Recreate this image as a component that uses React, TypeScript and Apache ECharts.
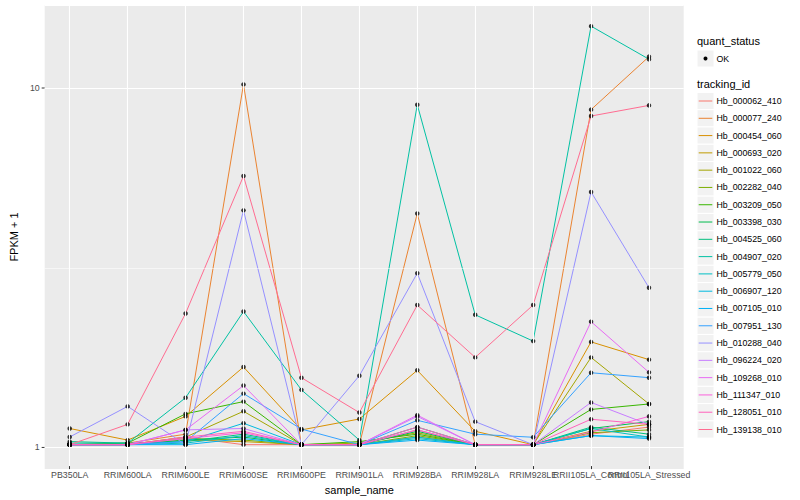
import React, { useEffect, useRef } from "react";
import * as echarts from "echarts";

// ---------- data ----------
const CATEGORIES = [
  "PB350LA",
  "RRIM600LA",
  "RRIM600LE",
  "RRIM600SE",
  "RRIM600PE",
  "RRIM901LA",
  "RRIM928BA",
  "RRIM928LA",
  "RRIM928LE",
  "RRII105LA_Control",
  "RRII105LA_Stressed",
];

const TRACKING_IDS = [
  "Hb_000062_410",
  "Hb_000077_240",
  "Hb_000454_060",
  "Hb_000693_020",
  "Hb_001022_060",
  "Hb_002282_040",
  "Hb_003209_050",
  "Hb_003398_030",
  "Hb_004525_060",
  "Hb_004907_020",
  "Hb_005779_050",
  "Hb_006907_120",
  "Hb_007105_010",
  "Hb_007951_130",
  "Hb_010288_040",
  "Hb_096224_020",
  "Hb_109268_010",
  "Hb_111347_010",
  "Hb_128051_010",
  "Hb_139138_010",
];

const COLORS = [
  "#F8766D", "#EA8331", "#D89000", "#C09B00", "#A3A500",
  "#7CAE00", "#39B600", "#00BB4E", "#00BF7D", "#00C1A3",
  "#00BFC4", "#00BAE0", "#00B0F6", "#35A2FF", "#9590FF",
  "#C77CFF", "#E76BF3", "#FA62DB", "#FF62BC", "#FF6C91",
];

// FPKM + 1 per sample (same order as CATEGORIES)
const HB_000062_410 = [1.0, 1.0, 1.05, 1.0, 1.0, 1.0, 1.1, 1.0, 1.0, 1.07, 1.12];
const HB_000077_240 = [1.0, 1.01, 1.07, 10.2, 1.0, 1.0, 4.44, 1.0, 1.0, 8.67, 12.2];
const HB_000454_060 = [1.11, 1.03, 1.2, 1.65, 1.1, 1.18, 1.615, 1.09, 1.0, 1.94, 1.73];
const HB_000693_020 = [1.0, 1.0, 1.03, 1.02, 1.0, 1.0, 1.05, 1.0, 1.0, 1.09, 1.14];
const HB_001022_060 = [1.0, 1.0, 1.05, 1.24, 1.0, 1.01, 1.08, 1.0, 1.0, 1.755, 1.3];
const HB_002282_040 = [1.0, 1.0, 1.04, 1.03, 1.0, 1.0, 1.06, 1.0, 1.0, 1.08, 1.1];
const HB_003209_050 = [1.0, 1.01, 1.22, 1.32, 1.0, 1.02, 1.07, 1.0, 1.0, 1.255, 1.3];
const HB_003398_030 = [1.0, 1.0, 1.03, 1.05, 1.0, 1.0, 1.09, 1.0, 1.0, 1.11, 1.16];
const HB_004525_060 = [1.02, 1.01, 1.02, 1.07, 1.0, 1.0, 1.12, 1.0, 1.0, 1.12, 1.07];
const HB_004907_020 = [1.01, 1.01, 1.353, 2.36, 1.424, 1.03, 8.95, 2.31, 1.95, 14.85, 12.0];
const HB_005779_050 = [1.0, 1.0, 1.01, 1.06, 1.0, 1.0, 1.04, 1.0, 1.0, 1.11, 1.05];
const HB_006907_120 = [1.0, 1.0, 1.02, 1.148, 1.0, 1.0, 1.05, 1.0, 1.0, 1.06, 1.05];
const HB_007105_010 = [1.0, 1.0, 1.0, 1.04, 1.0, 1.0, 1.03, 1.0, 1.0, 1.06, 1.04];
const HB_007951_130 = [1.0, 1.0, 1.02, 1.39, 1.106, 1.0, 1.17, 1.07, 1.049, 1.59, 1.54];
const HB_010288_040 = [1.051, 1.28, 1.0, 4.53, 1.0, 1.56, 3.02, 1.16, 1.0, 5.1, 2.75];
const HB_096224_020 = [1.0, 1.0, 1.1, 1.11, 1.0, 1.0, 1.2, 1.0, 1.0, 1.313, 1.138];
const HB_109268_010 = [1.0, 1.0, 1.1, 1.464, 1.0, 1.0, 1.21, 1.0, 1.0, 2.21, 1.594];
const HB_111347_010 = [1.0, 1.0, 1.04, 1.08, 1.0, 1.0, 1.1, 1.0, 1.0, 1.085, 1.2];
const HB_128051_010 = [1.0, 1.0, 1.05, 1.09, 1.0, 1.0, 1.12, 1.0, 1.0, 1.178, 1.14];
const HB_139138_010 = [1.0, 1.14, 2.33, 5.65, 1.54, 1.23, 2.46, 1.755, 2.46, 8.32, 8.91];

const SERIES_VALUES = [
  HB_000062_410, HB_000077_240, HB_000454_060, HB_000693_020, HB_001022_060,
  HB_002282_040, HB_003209_050, HB_003398_030, HB_004525_060, HB_004907_020,
  HB_005779_050, HB_006907_120, HB_007105_010, HB_007951_130, HB_010288_040,
  HB_096224_020, HB_109268_010, HB_111347_010, HB_128051_010, HB_139138_010,
];

const Y_MAJOR_TICKS = [1, 10];
const Y_MINOR_BREAKS = [3.1623];
const Y_MIN = 0.871;
const Y_MAX = 17.02;
const QUANT_STATUS = ["OK"];

// ---------- styles ----------
const FONT = "Liberation Sans, Arial, Helvetica, sans-serif";
const PANEL_BG = "#EBEBEB";
const TEXT_GREY = "#4D4D4D";
const TICK_GREY = "#333333";

const isMajor = (v: number) =>
  Y_MAJOR_TICKS.some((t) => Math.abs(v - t) / t < 1e-6);

export default function App() {
  const ref = useRef<HTMLDivElement>(null);

  useEffect(() => {
    if (!ref.current) return;
    const chart = echarts.init(ref.current, null, { renderer: "svg" });

    const lineSeries = TRACKING_IDS.map((id, i) => ({
      name: id,
      type: "line",
      xAxisIndex: 1,
      yAxisIndex: 1,
      data: SERIES_VALUES[i],
      showSymbol: false,
      symbol: "none",
      color: COLORS[i],
      lineStyle: { color: COLORS[i], width: 1 },
      z: 2,
      silent: true,
    }));

    const pointData: any[] = [];
    SERIES_VALUES.forEach((vals) =>
      vals.forEach((v, j) => pointData.push([CATEGORIES[j], v]))
    );

    // legend (ggplot-style) built with graphic elements
    const LX = 697;
    const graphics: any[] = [];
    graphics.push({
      type: "text",
      left: LX,
      top: 35,
      style: { text: "quant_status", font: `11px ${FONT}`, fill: "#000" },
    });
    QUANT_STATUS.forEach((q, k) => {
      const cy = 58.5 + k * 17.3;
      graphics.push({
        type: "rect",
        shape: { x: LX, y: cy - 8.5, width: 17, height: 17 },
        style: { fill: "#F2F2F2", stroke: "#fff", lineWidth: 1 },
      });
      graphics.push({
        type: "circle",
        shape: { cx: LX + 8.5, cy, r: 2 },
        style: { fill: "#000" },
      });
      graphics.push({
        type: "text",
        x: LX + 19.5,
        y: cy,
        style: {
          text: q,
          font: `8.8px ${FONT}`,
          fill: "#000",
          verticalAlign: "middle",
        },
      });
    });
    graphics.push({
      type: "text",
      left: LX,
      top: 78,
      style: { text: "tracking_id", font: `11px ${FONT}`, fill: "#000" },
    });
    TRACKING_IDS.forEach((id, i) => {
      const cy = 101 + i * 17.29;
      graphics.push({
        type: "rect",
        shape: { x: LX, y: cy - 8.6, width: 17, height: 17.2 },
        style: { fill: "#F2F2F2", stroke: "#fff", lineWidth: 1 },
      });
      graphics.push({
        type: "line",
        shape: { x1: LX + 1.7, y1: cy, x2: LX + 15.3, y2: cy },
        style: { stroke: COLORS[i], lineWidth: 1 },
      });
      graphics.push({
        type: "text",
        x: LX + 19.5,
        y: cy,
        style: {
          text: id,
          font: `8.8px ${FONT}`,
          fill: "#000",
          verticalAlign: "middle",
        },
      });
    });

    const option: any = {
      animation: false,
      backgroundColor: "#fff",
      textStyle: { fontFamily: FONT },
      grid: [
        {
          left: 35,
          top: 5,
          width: 648.7,
          height: 464,
          show: true,
          backgroundColor: PANEL_BG,
          borderWidth: 0,
        },
        { left: 40.75, top: 5, width: 637.2, height: 464, show: false },
      ],
      xAxis: [
        { gridIndex: 0, type: "value", min: 0, max: 1, show: false },
        {
          gridIndex: 1,
          type: "category",
          data: CATEGORIES,
          boundaryGap: true,
          axisLine: { show: false },
          axisTick: {
            show: true,
            alignWithLabel: true,
            length: 3,
            lineStyle: { color: TICK_GREY, width: 1 },
          },
          axisLabel: {
            interval: 0,
            color: TEXT_GREY,
            fontSize: 8.8,
            fontFamily: FONT,
            margin: 4,
          },
          splitLine: { show: false },
          name: "sample_name",
          nameLocation: "middle",
          nameGap: 13,
          nameTextStyle: { color: "#000", fontSize: 11, fontFamily: FONT },
        },
      ],
      yAxis: [
        {
          gridIndex: 0,
          type: "log",
          logBase: 10,
          min: Y_MIN,
          max: Y_MAX,
          axisLine: { show: false },
          axisTick: { show: false },
          axisLabel: {
            show: true,
            color: TEXT_GREY,
            fontSize: 8.8,
            fontFamily: FONT,
            margin: 5,
            align: "right",
            formatter: (v: number) => (isMajor(v) ? String(Math.round(v)) : ""),
          },
          splitLine: { show: true, lineStyle: { color: "#fff", width: 1.1 } },
          name: "FPKM + 1",
          nameLocation: "middle",
          nameGap: 18,
          nameTextStyle: { color: "#000", fontSize: 11, fontFamily: FONT },
        },
        {
          gridIndex: 1,
          type: "log",
          logBase: 10,
          min: Y_MIN,
          max: Y_MAX,
          show: false,
        },
      ],
      graphic: graphics,
      series: [
        {
          type: "line",
          xAxisIndex: 0,
          yAxisIndex: 0,
          data: [
            [0, 1],
            [1, 1],
          ],
          showSymbol: false,
          symbol: "none",
          lineStyle: { opacity: 0 },
          silent: true,
          z: 1,
          markLine: {
            silent: true,
            symbol: "none",
            label: { show: false },
            lineStyle: { color: "#fff", width: 0.55, type: "solid" },
            data: Y_MINOR_BREAKS.map((b) => ({ yAxis: b })),
          },
        },
        {
          type: "line",
          xAxisIndex: 1,
          yAxisIndex: 1,
          data: [],
          showSymbol: false,
          silent: true,
          z: 1,
          markLine: {
            silent: true,
            symbol: "none",
            label: { show: false },
            lineStyle: { color: "#fff", width: 1.1, type: "solid" },
            data: CATEGORIES.map((c) => ({ xAxis: c })),
          },
        },
        ...lineSeries,
        {
          type: "scatter",
          xAxisIndex: 1,
          yAxisIndex: 1,
          data: pointData,
          symbol: "circle",
          symbolSize: 4.5,
          itemStyle: { color: "#000" },
          silent: true,
          z: 3,
        },
      ],
    };

    chart.setOption(option);

    // y-axis tick marks at the major breaks, placed through the axis scale
    const panelLeft = chart.convertToPixel({ xAxisIndex: 0 }, 0) as number;
    const tickMarks = Y_MAJOR_TICKS.map((t) => {
      const y = chart.convertToPixel({ yAxisIndex: 0 }, t) as number;
      return {
        type: "line",
        shape: { x1: panelLeft - 3, y1: y, x2: panelLeft, y2: y },
        style: { stroke: TICK_GREY, lineWidth: 1 },
      };
    });
    chart.setOption({ graphic: [...graphics, ...tickMarks] });

    return () => chart.dispose();
  }, []);

  return (
    <div
      ref={ref}
      style={{ position: "absolute", left: 0, top: 0, width: 800, height: 500 }}
    />
  );
}
